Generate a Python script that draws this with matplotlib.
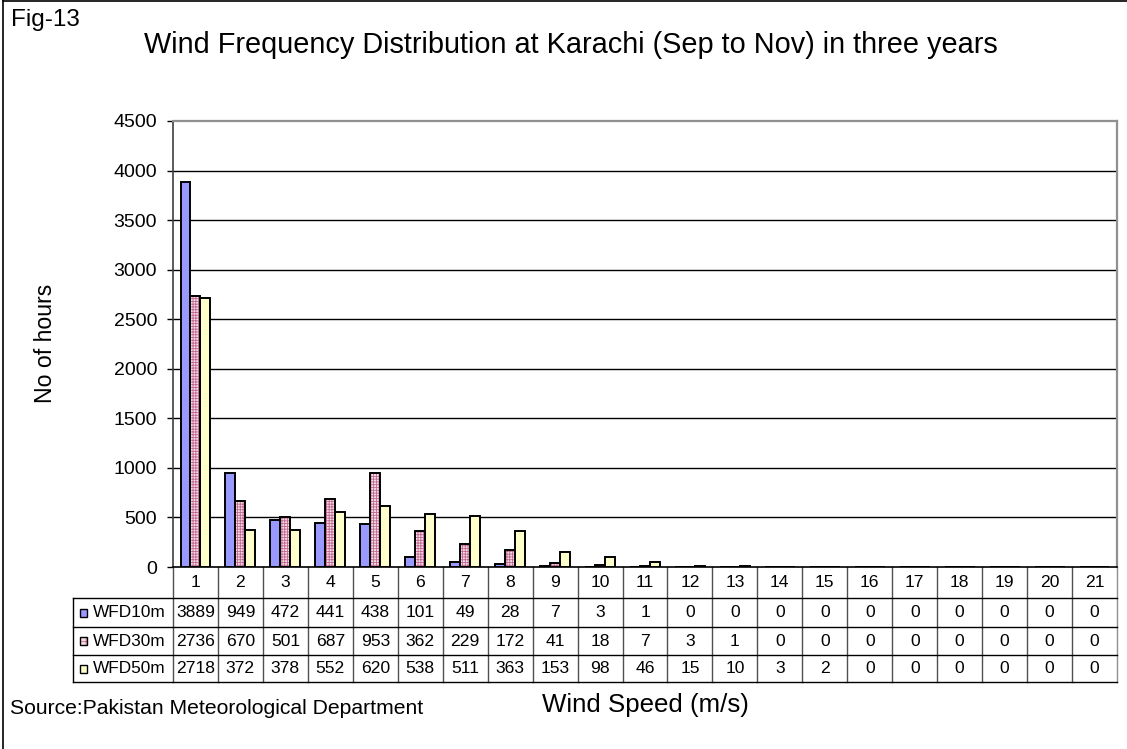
import matplotlib
matplotlib.use("Agg")
import matplotlib.pyplot as plt
import numpy as np
from matplotlib.lines import Line2D
from matplotlib.patches import Rectangle
from matplotlib.transforms import blended_transform_factory

plt.rcParams["font.family"] = ["Liberation Sans", "DejaVu Sans"]
plt.rcParams["hatch.linewidth"] = 0.6

# data
speeds = list(range(1, 22))
series = ["WFD10m", "WFD30m", "WFD50m"]
wfd10 = [3889, 949, 472, 441, 438, 101, 49, 28, 7, 3, 1, 0, 0, 0, 0, 0, 0, 0, 0, 0, 0]
wfd30 = [2736, 670, 501, 687, 953, 362, 229, 172, 41, 18, 7, 3, 1, 0, 0, 0, 0, 0, 0, 0, 0]
wfd50 = [2718, 372, 378, 552, 620, 538, 511, 363, 153, 98, 46, 15, 10, 3, 2, 0, 0, 0, 0, 0, 0]
yticks = list(range(0, 5000, 500))

W, H = 1127, 749
fig = plt.figure(figsize=(W / 100, H / 100), dpi=100)

# plot area in pixels
L, R, T, B = 173, 1117, 121, 567
ax = fig.add_axes([L / W, 1 - B / H, (R - L) / W, (B - T) / H])

x = np.array(speeds, dtype=float)
bw = 0.222
blue, pink_face, pink_hatch, yellow = "#9999FF", "#F6DCE6", "#C06890", "#FFFFCC"

ax.bar(x - bw, wfd10, bw, color=blue, edgecolor="black", lw=1.4, zorder=3)
# pink: hatched fill, then black outline on top
ax.bar(x, wfd30, bw, color=pink_face, edgecolor=pink_hatch, lw=0, hatch="++++++", zorder=3)
ax.bar(x, wfd30, bw, facecolor="none", edgecolor="black", lw=1.4, zorder=4)
ax.bar(x + bw, wfd50, bw, color=yellow, edgecolor="black", lw=1.4, zorder=3)

ax.set_xlim(0.5, 21.5)
ax.set_ylim(0, 4500)
ax.set_yticks(yticks)
ax.set_xticks([])
ax.tick_params(axis="y", direction="out", length=4.3, width=1, pad=7.2, labelsize=14)
for v in yticks[1:-1]:
    ax.axhline(v, color="black", lw=1, zorder=1)
ax.spines["top"].set_color("#909090")
ax.spines["right"].set_color("#909090")
ax.spines["top"].set_linewidth(1.6)
ax.spines["right"].set_linewidth(1.6)
ax.spines["left"].set_color("#404040")
ax.spines["left"].set_linewidth(1.2)
ax.spines["bottom"].set_linewidth(1.2)

# data table under the chart
def ay(py):
    return (B - py) / (B - T)

def axx(px):
    return (px - L) / (R - L)

bt = blended_transform_factory(ax.transData, ax.transAxes)
rows_px = [567, 598, 627, 655, 682]
for s in speeds:
    ax.text(s, ay((rows_px[0] + rows_px[1]) / 2), str(s), transform=bt,
            ha="center", va="center", fontsize=12.6, clip_on=False)
for b in np.arange(0.5, 22, 1.0):
    col = "#909090" if b == 21.5 else "#505050"
    ax.add_line(Line2D([b, b], [ay(rows_px[0]), ay(rows_px[-1])], transform=bt,
                       color=col, lw=1, clip_on=False))
ax.add_line(Line2D([axx(73), axx(73)], [ay(rows_px[1]), ay(rows_px[-1])],
                   transform=ax.transAxes, color="black", lw=1, clip_on=False))
for py in rows_px[1:]:
    ax.add_line(Line2D([axx(73), 1], [ay(py), ay(py)], transform=ax.transAxes,
                       color="black", lw=1, clip_on=False))

tab_vals = [wfd10, wfd30, wfd50]
keys = [(blue, None), (pink_face, pink_hatch), (yellow, None)]
for r, (name, vals) in enumerate(zip(series, tab_vals)):
    yc = (rows_px[r + 1] + rows_px[r + 2]) / 2
    for s, v in zip(speeds, vals):
        ax.text(s, ay(yc), str(v), transform=bt, ha="center", va="center",
                fontsize=12.6, clip_on=False)
    ax.text(axx(93), ay(yc), name, transform=ax.transAxes, ha="left", va="center",
            fontsize=12.4, clip_on=False)
    fc, hc = keys[r]
    if hc:
        ax.add_patch(Rectangle((axx(80), ay(yc + 4)), 7 / (R - L), 8 / (B - T),
                               transform=ax.transAxes, facecolor=fc, edgecolor=hc,
                               lw=0, hatch="+++", clip_on=False))
    ax.add_patch(Rectangle((axx(80), ay(yc + 4)), 7 / (R - L), 8 / (B - T),
                           transform=ax.transAxes, facecolor=fc if not hc else "none",
                           edgecolor="black", lw=1, clip_on=False))

# texts
def fx(px):
    return px / W

def fy(py):
    return 1 - py / H

fig.text(fx(571), fy(53), "Wind Frequency Distribution at Karachi (Sep to Nov) in three years",
         ha="center", va="baseline", fontsize=20.8)
fig.text(fx(11), fy(26), "Fig-13", ha="left", va="baseline", fontsize=17.5)
fig.text(fx(45), fy(343), "No of hours", rotation=90, ha="center", va="center", fontsize=16.6)
fig.text(fx(645), fy(712), "Wind Speed (m/s)", ha="center", va="baseline", fontsize=18.6)
fig.text(fx(10), fy(714), "Source:Pakistan Meteorological Department", ha="left",
         va="baseline", fontsize=15.2)

# figure border (left and top)
fig.add_artist(Line2D([fx(3.5), fx(3.5)], [0, 1], transform=fig.transFigure, color="black", lw=1.2))
fig.add_artist(Line2D([fx(3.5), 1], [fy(0.8), fy(0.8)], transform=fig.transFigure, color="black", lw=1.2))

fig.savefig("out.png", dpi=100)
